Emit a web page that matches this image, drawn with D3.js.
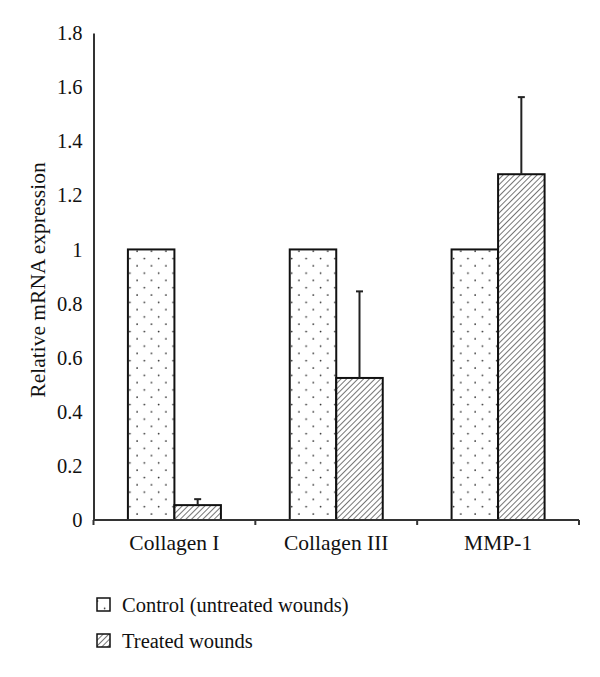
<!DOCTYPE html>
<html>
<head>
<meta charset="utf-8">
<script src="https://cdn.jsdelivr.net/npm/d3@7"></script>
<style>
  html, body { margin: 0; padding: 0; background: #fff; }
  svg text { font-family: "Liberation Serif", "Times New Roman", serif; fill: #111; }
</style>
</head>
<body>
<svg id="chart" width="600" height="677"></svg>
<script>
const categories = ["Collagen I", "Collagen III", "MMP-1"];
const seriesNames = ["Control (untreated wounds)", "Treated wounds"];
const controlValues = [1, 1, 1];
const controlErrors = [0, 0, 0];
const treatedValues = [0.055, 0.525, 1.278];
const treatedErrors = [0.022, 0.32, 0.285];
const yTicks = [0, 0.2, 0.4, 0.6, 0.8, 1, 1.2, 1.4, 1.6, 1.8];
const yLabel = "Relative mRNA expression";

const svg = d3.select("#chart");
const defs = svg.append("defs");

// dotted pattern
const dots = defs.append("pattern").attr("id", "dots")
  .attr("patternUnits", "userSpaceOnUse").attr("width", 14.4).attr("height", 14.6)
  .attr("x", 127).attr("y", 0);
dots.append("rect").attr("width", 14.4).attr("height", 14.6).attr("fill", "#fff");
dots.append("circle").attr("cx", 3).attr("cy", 3).attr("r", 0.85).attr("fill", "#222");
dots.append("circle").attr("cx", 10.2).attr("cy", 10.3).attr("r", 0.85).attr("fill", "#222");

// hatch pattern
const hatch = defs.append("pattern").attr("id", "hatch")
  .attr("patternUnits", "userSpaceOnUse").attr("width", 4).attr("height", 10)
  .attr("patternTransform", "rotate(45)");
hatch.append("rect").attr("width", 4).attr("height", 10).attr("fill", "#fff");
hatch.append("line").attr("x1", 0.5).attr("y1", 0).attr("x2", 0.5).attr("y2", 10)
  .attr("stroke", "#666").attr("stroke-width", 0.9);

const fills = ["url(#dots)", "url(#hatch)"];

const y = d3.scaleLinear().domain([0, 1.8]).range([520, 33]);
const x0 = d3.scaleBand().domain(categories).range([93.5, 579]).paddingInner(0).paddingOuter(0);
const x1 = d3.scaleBand().domain(seriesNames).range([0, x0.bandwidth()]).paddingInner(0).paddingOuter(0.74);

const data = categories.map((c, i) => ({
  cat: c,
  bars: [
    { s: seriesNames[0], v: controlValues[i], e: controlErrors[i], f: fills[0] },
    { s: seriesNames[1], v: treatedValues[i], e: treatedErrors[i], f: fills[1] }
  ]
}));

// bars
const groups = svg.append("g").selectAll("g").data(data).join("g")
  .attr("transform", d => `translate(${x0(d.cat)},0)`);
groups.selectAll("rect").data(d => d.bars).join("rect")
  .attr("x", d => x1(d.s))
  .attr("y", d => y(d.v))
  .attr("width", x1.bandwidth())
  .attr("height", d => y(0) - y(d.v))
  .attr("fill", d => d.f)
  .attr("stroke", "#111").attr("stroke-width", 2);

// error bars (upper only)
const eb = groups.selectAll("g.err").data(d => d.bars.filter(b => b.e > 0)).join("g").attr("class", "err");
eb.append("line")
  .attr("x1", d => x1(d.s) + x1.bandwidth() / 2).attr("x2", d => x1(d.s) + x1.bandwidth() / 2)
  .attr("y1", d => y(d.v)).attr("y2", d => y(d.v + d.e))
  .attr("stroke", "#222").attr("stroke-width", 2);
eb.append("line")
  .attr("x1", d => x1(d.s) + x1.bandwidth() / 2 - 3.5).attr("x2", d => x1(d.s) + x1.bandwidth() / 2 + 3.5)
  .attr("y1", d => y(d.v + d.e)).attr("y2", d => y(d.v + d.e))
  .attr("stroke", "#222").attr("stroke-width", 2);

// y axis
const yAxis = d3.axisLeft(y).tickValues(yTicks).tickSize(0).tickPadding(11)
  .tickFormat(d => d3.format("")(+d.toFixed(1)));
const gy = svg.append("g").attr("transform", "translate(93.5,0)").call(yAxis);
gy.select(".domain").attr("stroke", "#333").attr("stroke-width", 2);
gy.selectAll("text").attr("font-size", 20.5).attr("font-family", "Liberation Serif").attr("fill", "#111");

// x axis
const xAxis = d3.axisBottom(x0).tickSize(0).tickPadding(15);
const gx = svg.append("g").attr("transform", "translate(0,520)").call(xAxis);
gx.select(".domain").attr("stroke", "#333").attr("stroke-width", 2).attr("d", "M93.5,0H579");
gx.selectAll("text").attr("font-size", 21.5).attr("font-family", "Liberation Serif").attr("fill", "#111");
// boundary ticks
const bounds = categories.map(c => x0(c)).concat([x0.range()[1]]);
gx.selectAll("line.bt").data(bounds).join("line").attr("class", "bt")
  .attr("x1", d => d).attr("x2", d => d).attr("y1", 0).attr("y2", 5)
  .attr("stroke", "#333").attr("stroke-width", 2);

// y label
svg.append("text")
  .attr("transform", "translate(45,280) rotate(-90)")
  .attr("text-anchor", "middle")
  .attr("font-size", 21.5)
  .text(yLabel);

// legend
const legend = svg.append("g").selectAll("g").data(seriesNames).join("g")
  .attr("transform", (d, i) => `translate(97,${598 + i * 36})`);
legend.append("rect").attr("width", 13).attr("height", 13)
  .attr("fill", (d, i) => fills[i]).attr("stroke", "#111").attr("stroke-width", 1.5);
legend.append("text").attr("x", 25).attr("y", 13.5).attr("font-size", 20.5).text(d => d);
</script>
</body>
</html>
